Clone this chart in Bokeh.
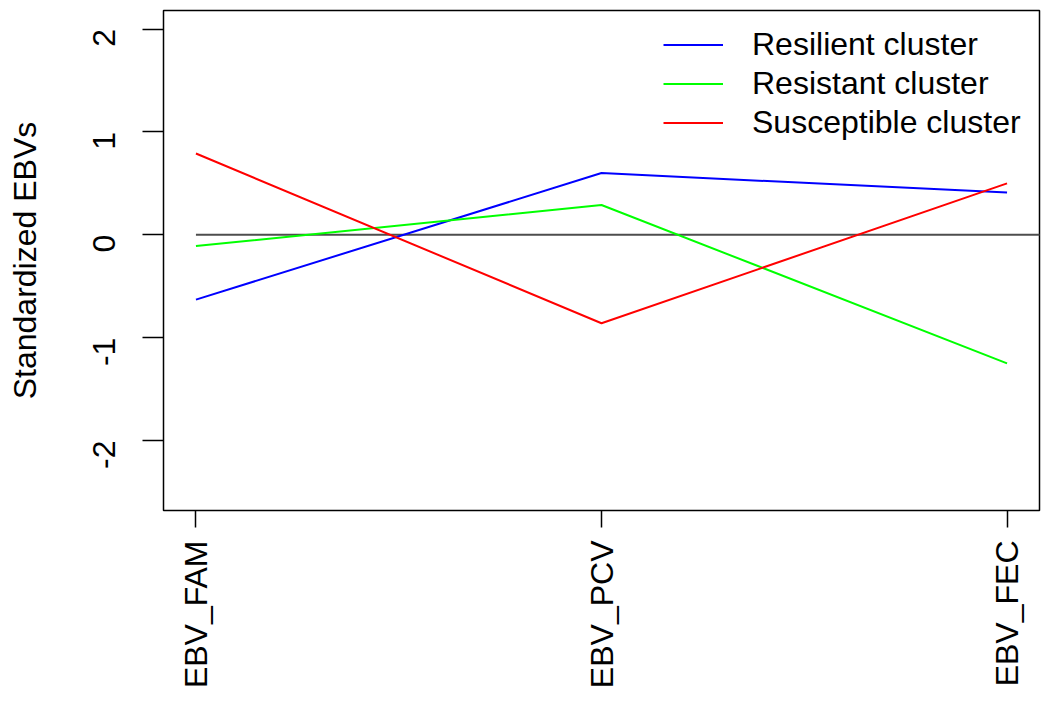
import math
from bokeh.plotting import figure
from bokeh.models import Range1d, FixedTicker, Legend, LegendItem
from bokeh.embed import file_html
from bokeh.resources import INLINE

# ---- data ----
traits = ["EBV_FAM", "EBV_PCV", "EBV_FEC"]
trait_pos = [1, 2, 3]
resilient = [-0.63, 0.60, 0.41]
resistant = [-0.11, 0.29, -1.25]
susceptible = [0.79, -0.86, 0.50]
series_names = ["Resilient cluster", "Resistant cluster", "Susceptible cluster"]
series_colors = ["#0000FF", "#00FF00", "#FF0000"]
y_ticks = [-2, -1, 0, 1, 2]
y_tick_labels = ["-2", "-1", "0", "1", "2"]
zero_x = [1, 3.2]
zero_y = [0, 0]

FONT = "Liberation Sans"
FS = "32px"

p = figure(width=1041, height=691, output_backend="svg", toolbar_location=None,
           x_range=Range1d(0.92, 3.08), y_range=Range1d(-2.68, 2.18),
           min_border_left=163, min_border_right=2, min_border_top=10,
           min_border_bottom=179)

p.xgrid.visible = False
p.ygrid.visible = False
p.background_fill_color = "white"
p.border_fill_color = "white"
p.outline_line_color = "black"
p.outline_line_width = 1.5
p.outline_line_alpha = 1.0

# zero reference line
p.line(zero_x, zero_y, line_color="#4d4d4d", line_width=2)

series = [resilient, resistant, susceptible]
renderers = []
for vals, col in zip(series, series_colors):
    r = p.line(trait_pos, vals, line_color=col, line_width=2)
    renderers.append(r)

# axes
xa = p.xaxis[0]
xa.ticker = FixedTicker(ticks=trait_pos)
xa.major_label_overrides = {pos: lab for pos, lab in zip(trait_pos, traits)}
xa.major_label_orientation = math.pi / 2
xa.axis_line_color = None
xa.major_tick_out = 17
xa.major_tick_in = 0
xa.minor_tick_line_color = None
xa.major_tick_line_width = 1.5
xa.major_tick_line_color = "black"
xa.major_label_standoff = 13
xa.major_label_text_font = FONT
xa.major_label_text_font_size = FS
xa.major_label_text_color = "black"

ya = p.yaxis[0]
ya.ticker = FixedTicker(ticks=y_ticks)
ya.major_label_overrides = {t: lab for t, lab in zip(y_ticks, y_tick_labels)}
ya.major_label_orientation = math.pi / 2
ya.axis_line_color = None
ya.major_tick_out = 21
ya.major_tick_in = 0
ya.minor_tick_line_color = None
ya.major_tick_line_width = 1.5
ya.major_tick_line_color = "black"
ya.major_label_standoff = 38
ya.major_label_text_font = FONT
ya.major_label_text_font_size = FS
ya.major_label_text_color = "black"
ya.axis_label = "Standardized EBVs"
ya.axis_label_text_font = FONT
ya.axis_label_text_font_size = FS
ya.axis_label_text_font_style = "normal"
ya.axis_label_text_color = "black"
ya.axis_label_standoff = 37

legend = Legend(
    items=[LegendItem(label=n, renderers=[r]) for n, r in zip(series_names, renderers)],
    location=(500, 368),
    border_line_color=None,
    background_fill_alpha=0,
    padding=0, margin=0, spacing=0,
    glyph_width=60, glyph_height=39, label_height=39,
    label_standoff=29,
    label_text_font=FONT, label_text_font_size=FS,
    label_text_color="black",
)
p.add_layout(legend)

open("out.html", "w").write(file_html(p, INLINE))
